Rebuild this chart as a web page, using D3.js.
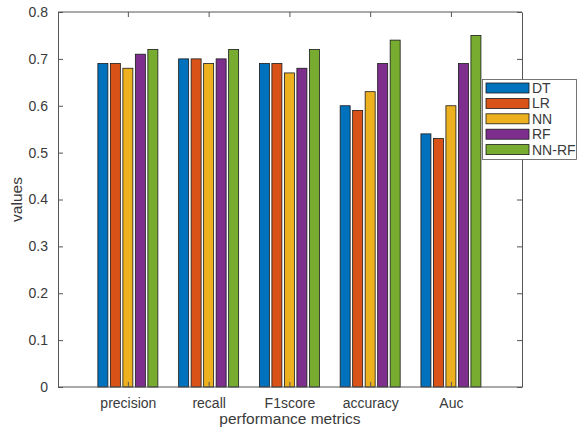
<!DOCTYPE html>
<html>
<head>
<meta charset="utf-8">
<script src="https://cdn.jsdelivr.net/npm/d3@7"></script>
<style>
  body { margin: 0; background: #fff; }
  text { font-family: "Liberation Sans", Arial, sans-serif; fill: #3a3a3a; }
</style>
</head>
<body>
<svg id="chart"></svg>
<script>
// data
const metrics = ["precision", "recall", "F1score", "accuracy", "Auc"];
const models = ["DT", "LR", "NN", "RF", "NN-RF"];
const DT   = [0.69, 0.70, 0.69, 0.60, 0.54];
const LR   = [0.69, 0.70, 0.69, 0.59, 0.53];
const NN   = [0.68, 0.69, 0.67, 0.63, 0.60];
const RF   = [0.71, 0.70, 0.68, 0.69, 0.69];
const NNRF = [0.72, 0.72, 0.72, 0.74, 0.75];
const series = [DT, LR, NN, RF, NNRF];
const yTicks = [0, 0.1, 0.2, 0.3, 0.4, 0.5, 0.6, 0.7, 0.8];

const colors = ["#0072BD", "#D95319", "#EDB120", "#7E2F8E", "#77AC30"];

const width = 577, height = 431;
const mLeft = 58, mRight = 522, mTop = 12, mBottom = 387;

const svg = d3.select("#chart").attr("width", width).attr("height", height);

// x positions 1..5 like matlab, with the padded limits seen in the picture
const x = d3.scaleLinear().domain([0.135, 5.88]).range([mLeft, mRight]);
const y = d3.scaleLinear().domain([0, 0.8]).range([mBottom, mTop]);

const step = 12.5, barW = 10;
const offset = d3.scaleLinear().domain([0, 4]).range([-2 * step, 2 * step]);

// bars
series.forEach((vals, s) => {
  svg.append("g").selectAll("rect")
    .data(vals)
    .enter()
    .append("rect")
    .attr("x", (d, i) => x(i + 1) + offset(s) - barW / 2)
    .attr("y", d => y(d))
    .attr("width", barW)
    .attr("height", d => mBottom - y(d))
    .attr("fill", colors[s])
    .attr("stroke", "#1a1a1a")
    .attr("stroke-width", 0.8);
});

// axes (ticks inward, box on)
const tickLen = 5;
const axisColor = "#555";
const gy = svg.append("g").attr("transform", `translate(${mLeft},0)`)
  .call(d3.axisLeft(y).tickValues(yTicks).tickFormat(d => d === 0 ? "0" : d3.format(".1f")(d)).tickSizeInner(-tickLen).tickSizeOuter(0).tickPadding(10));
const gyr = svg.append("g").attr("transform", `translate(${mRight},0)`)
  .call(d3.axisRight(y).tickValues(yTicks).tickFormat("").tickSizeInner(-tickLen).tickSizeOuter(0));
const gx = svg.append("g").attr("transform", `translate(0,${mBottom})`)
  .call(d3.axisBottom(x).tickValues([1, 2, 3, 4, 5]).tickFormat((d, i) => metrics[i]).tickSizeInner(-tickLen).tickSizeOuter(0).tickPadding(11));
const gxt = svg.append("g").attr("transform", `translate(0,${mTop})`)
  .call(d3.axisTop(x).tickValues([1, 2, 3, 4, 5]).tickFormat("").tickSizeInner(-tickLen).tickSizeOuter(0));

[gy, gyr, gx, gxt].forEach(g => {
  g.select(".domain").attr("stroke", axisColor);
  g.selectAll(".tick line").attr("stroke", axisColor);
  g.selectAll(".tick text").style("font-size", "14px").attr("fill", "#3a3a3a");
});
// make sure domain lines span the full box
gx.select(".domain").attr("d", `M${mLeft},0H${mRight}`);
gxt.select(".domain").attr("d", `M${mLeft},0H${mRight}`);

// axis labels
svg.append("text")
  .attr("x", (mLeft + mRight) / 2).attr("y", 424)
  .attr("text-anchor", "middle").style("font-size", "15.5px")
  .text("performance metrics");
svg.append("text")
  .attr("transform", `translate(22,${(mTop + mBottom) / 2}) rotate(-90)`)
  .attr("text-anchor", "middle").style("font-size", "15.5px")
  .text("values");

// legend
const lg = svg.append("g");
lg.append("rect")
  .attr("x", 482.5).attr("y", 79.5).attr("width", 94).attr("height", 80)
  .attr("fill", "#fff").attr("stroke", "#555").attr("stroke-width", 0.8);
models.forEach((m, i) => {
  const cy = 88 + i * 15.4;
  lg.append("rect")
    .attr("x", 486).attr("y", cy - 5).attr("width", 43).attr("height", 10)
    .attr("fill", colors[i]).attr("stroke", "#1a1a1a").attr("stroke-width", 0.8);
  lg.append("text")
    .attr("x", 532).attr("y", cy + 5)
    .style("font-size", "14px")
    .text(m);
});
</script>
</body>
</html>
